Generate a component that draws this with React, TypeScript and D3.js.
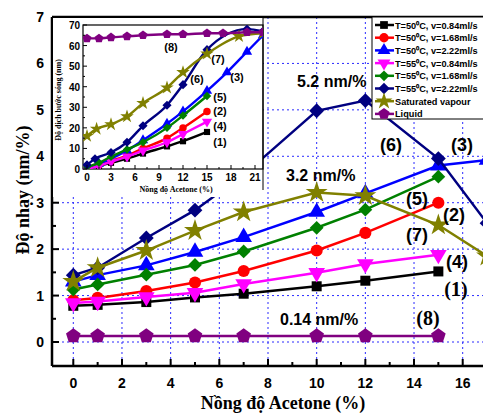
import React from "react";
import * as d3 from "d3";

// main plot: sensitivity vs acetone concentration
const xsMain = [0, 1, 3, 5, 7, 10, 12, 15];
const xsLong = [0, 1, 3, 5, 7, 10, 12, 15, 17];
const s1 = [0.78, 0.8, 0.86, 0.96, 1.04, 1.2, 1.32, 1.52];
const s2 = [0.9, 0.95, 1.1, 1.28, 1.53, 1.97, 2.35, 3.0];
const s3 = [1.3, 1.44, 1.65, 1.94, 2.26, 2.8, 3.2, 3.8, 3.92];
const s4 = [0.84, 0.87, 0.97, 1.06, 1.25, 1.49, 1.68, 1.88];
const s5 = [1.13, 1.24, 1.45, 1.66, 1.95, 2.46, 2.85, 3.56];
const s6 = [1.44, 1.6, 2.24, 2.84, 3.6, 4.98, 5.2, 3.95, 2.56];
const s7 = [1.3, 1.6, 1.97, 2.4, 2.8, 3.22, 3.15, 2.52, 1.85];
const s8 = [0.13, 0.13, 0.13, 0.13, 0.13, 0.13, 0.13, 0.13];

// inset: wavelength shift (nm)
const inX = [0, 1.5, 3, 5, 7, 10, 12, 15];
const in1 = [0, 1.5, 3, 5, 7.5, 11, 13.5, 18];
const in2 = [0.5, 2, 4, 6.5, 10, 15, 20, 28];
const in4 = [0, 1.5, 3.5, 6, 9, 13, 17, 23];
const in5 = [1, 3, 6, 9.5, 13, 20, 26, 35.5];
const in3X = [0, 1.5, 3, 5, 7, 10, 12, 15, 17.5, 20, 22];
const in3 = [0.5, 2.5, 5, 9, 14, 22, 28, 38, 47, 57, 65];
const in6X = [0, 1, 3, 5, 7, 10, 12, 15, 20, 22];
const in6 = [2, 5, 8, 13, 21, 31, 41, 58, 68, 67];
const in7X = [0, 1.2, 3, 5, 7, 10, 12, 15, 19, 22];
const in7 = [16, 19.5, 21.7, 25.5, 32, 39.5, 47, 56, 64.5, 66];
const in8X = [0, 1.5, 3, 5, 7, 10, 12, 15, 17, 20, 22];
const in8 = [63.5, 63.5, 64, 64.5, 65, 65.5, 65.5, 66, 66, 66.5, 66.5];

const legendNames = [
  "T=50⁰C, v=0.84ml/s",
  "T=50⁰C, v=1.68ml/s",
  "T=50⁰C, v=2.22ml/s",
  "T=55⁰C, v=0.84ml/s",
  "T=55⁰C, v=1.68ml/s",
  "T=55⁰C, v=2.22ml/s",
  "Saturated vapour",
  "Liquid",
];

const pentagon = {
  draw(ctx: any, size: number) {
    const r = Math.sqrt(size / (2.5 * Math.sin((72 * Math.PI) / 180)));
    for (let k = 0; k < 5; k++) {
      const a = -Math.PI / 2 + (k * 2 * Math.PI) / 5;
      if (k === 0) ctx.moveTo(r * Math.cos(a), r * Math.sin(a));
      else ctx.lineTo(r * Math.cos(a), r * Math.sin(a));
    }
    ctx.closePath();
  },
};

// shape, rotation, size
const markers: [any, number, number][] = [
  [d3.symbolSquare, 0, 100],
  [d3.symbolCircle, 0, 115],
  [d3.symbolTriangle, 0, 120],
  [d3.symbolTriangle, 180, 120],
  [d3.symbolSquare, 45, 95],
  [d3.symbolSquare, 45, 110],
  [d3.symbolStar, 0, 150],
  [pentagon, 0, 140],
];
const colors = ["#000000", "#ff0000", "#0000ff", "#ff00ff", "#008000", "#000080", "#808000", "#800080"];

const sans = "'Liberation Sans', Arial, sans-serif";
const serif = "'Liberation Serif', 'Times New Roman', serif";

export default function App() {
  const x = d3.scaleLinear().domain([0, 16]).range([73.3, 462.7]);
  const y = d3.scaleLinear().domain([0, 7]).range([342, 17]);
  const L = 52, T = 17, B = 366, R = 500;

  const mainSeries = [
    { xs: xsMain, ys: s1 }, { xs: xsMain, ys: s2 }, { xs: xsLong, ys: s3 }, { xs: xsMain, ys: s4 },
    { xs: xsMain, ys: s5 }, { xs: xsLong, ys: s6 }, { xs: xsLong, ys: s7 }, { xs: xsMain, ys: s8 },
  ];
  const line = d3.line<[number, number]>().x((d) => x(d[0])).y((d) => y(d[1]));

  const ix = d3.scaleLinear().domain([0, 21]).range([87, 255]);
  const iy = d3.scaleLinear().domain([0, 70]).range([169, 25]);
  const iL = 83, iR = 263, iT = 25, iB = 169;
  const insetSeries = [
    { xs: inX, ys: in1 }, { xs: inX, ys: in2 }, { xs: in3X, ys: in3 }, { xs: inX, ys: in4 },
    { xs: inX, ys: in5 }, { xs: in6X, ys: in6 }, { xs: in7X, ys: in7 }, { xs: in8X, ys: in8 },
  ];
  const iline = d3.line<[number, number]>().x((d) => ix(d[0])).y((d) => iy(d[1])).curve(d3.curveMonotoneX);

  const sym = (i: number, scale = 1) => d3.symbol().type(markers[i][0]).size(markers[i][2] * scale)()!;

  const grid = "#2b2bff";

  return (
    <svg width={483} height={414} style={{ position: "absolute", left: 0, top: 0, background: "#fff" }}>
      <defs>
        <clipPath id="plot"><rect x={L} y={T} width={R - L} height={B - T} /></clipPath>
        <clipPath id="inset"><rect x={iL} y={iT} width={iR - iL} height={iB - iT} /></clipPath>
      </defs>

      {/* grid */}
      <g stroke={grid} strokeWidth={1} strokeDasharray="2,3">
        {d3.range(0, 17, 2).map((v) => <line key={"gx" + v} x1={x(v)} x2={x(v)} y1={T} y2={B} />)}
        {d3.range(0, 7).map((v) => <line key={"gy" + v} x1={L} x2={R} y1={y(v)} y2={y(v)} />)}
      </g>

      {/* main series */}
      <g clipPath="url(#plot)">
        {mainSeries.map((s, i) => {
          const pts = s.xs.map((v, j) => [v, s.ys[j]] as [number, number]);
          return (
            <g key={"m" + i}>
              <path d={line(pts)!} fill="none" stroke={colors[i]} strokeWidth={2.5} />
              {pts.map((p, j) => (
                <path key={j} d={sym(i)} fill={colors[i]} transform={`translate(${x(p[0])},${y(p[1])}) rotate(${markers[i][1]})`} />
              ))}
            </g>
          );
        })}
      </g>

      {/* frame */}
      <g stroke="#000" strokeWidth={2.5} fill="none">
        <line x1={L} x2={R} y1={T} y2={T} />
        <line x1={L} x2={R} y1={B} y2={B} />
        <line x1={L} x2={L} y1={T} y2={B} />
      </g>
      <g stroke="#000" strokeWidth={2}>
        {d3.range(0, 17, 2).map((v) => <line key={"tx" + v} x1={x(v)} x2={x(v)} y1={B} y2={B - 7} />)}
        {d3.range(1, 17, 2).map((v) => <line key={"mx" + v} x1={x(v)} x2={x(v)} y1={B} y2={B - 4} />)}
        {d3.range(0, 8).map((v) => <line key={"ty" + v} x1={L} x2={L + 7} y1={y(v)} y2={y(v)} />)}
        {d3.range(0.5, 7, 1).map((v) => <line key={"my" + v} x1={L} x2={L + 4} y1={y(v)} y2={y(v)} />)}
      </g>
      <g fontFamily={sans} fontWeight="bold" fontSize={14} fill="#000">
        {d3.range(0, 17, 2).map((v) => (
          <text key={"lx" + v} x={x(v)} y={388} textAnchor="middle">{v}</text>
        ))}
        {d3.range(0, 8).map((v) => (
          <text key={"ly" + v} x={44} y={y(v) + 5} textAnchor="end">{v}</text>
        ))}
      </g>
      <text x={283} y={409} textAnchor="middle" fontFamily={serif} fontWeight="bold" fontSize={18}>Nồng độ Acetone (%)</text>
      <text transform="translate(29,190) rotate(-90)" textAnchor="middle" fontFamily={serif} fontWeight="bold" fontSize={18}>Độ nhạy (nm/%)</text>

      {/* annotations */}
      <g fontFamily={sans} fontWeight="bold" fontSize={16} fill="#000">
        <text x={297} y={87}>5.2 nm/%</text>
        <text x={286} y={181}>3.2 nm/%</text>
        <text x={280} y={325}>0.14 nm/%</text>
      </g>
      <g fontFamily={sans} fontWeight="bold" fontSize={18} fill="#000" textAnchor="middle">
        <text x={391} y={151}>(6)</text>
        <text x={462} y={151}>(3)</text>
        <text x={417} y={205}>(5)</text>
        <text x={454} y={221}>(2)</text>
        <text x={417} y={241}>(7)</text>
        <text x={457} y={268}>(4)</text>
      </g>
      <g fontFamily={serif} fontWeight="bold" fontSize={20} fill="#000" textAnchor="middle">
        <text x={456} y={296}>(1)</text>
        <text x={428} y={325}>(8)</text>
      </g>

      {/* inset */}
      <rect x={L + 1} y={T + 1} width={iR - L - 1} height={197 - T - 1} fill="#fff" />
      <line x1={iR} x2={iR} y1={T} y2={190} stroke="#000" strokeWidth={1} />
      <rect x={iL} y={iT} width={iR - iL} height={iB - iT} fill="none" stroke="#000" strokeWidth={1.2} />
      <g clipPath="url(#inset)">
        {insetSeries.map((s, i) => {
          const pts = s.xs.map((v, j) => [v, s.ys[j]] as [number, number]);
          return (
            <g key={"i" + i}>
              <path d={iline(pts)!} fill="none" stroke={colors[i]} strokeWidth={2.4} />
              {pts.map((p, j) => (
                <path key={j} d={sym(i, 0.38)} fill={colors[i]} transform={`translate(${ix(p[0])},${iy(p[1])}) rotate(${markers[i][1]})`} />
              ))}
            </g>
          );
        })}
      </g>
      <g stroke="#000" strokeWidth={1}>
        {d3.range(0, 22, 3).map((v) => <line key={"itx" + v} x1={ix(v)} x2={ix(v)} y1={iB} y2={iB - 4} />)}
        {d3.range(1.5, 22, 3).map((v) => <line key={"imx" + v} x1={ix(v)} x2={ix(v)} y1={iB} y2={iB - 2} />)}
        {d3.range(0, 71, 10).map((v) => <line key={"ity" + v} x1={iL} x2={iL + 4} y1={iy(v)} y2={iy(v)} />)}
        {d3.range(5, 70, 10).map((v) => <line key={"imy" + v} x1={iL} x2={iL + 2} y1={iy(v)} y2={iy(v)} />)}
      </g>
      <g fontFamily={sans} fontWeight="bold" fontSize={10} fill="#000">
        {d3.range(0, 22, 3).map((v) => (
          <text key={"ilx" + v} x={ix(v)} y={181} textAnchor="middle">{v}</text>
        ))}
        {d3.range(0, 71, 10).map((v) => (
          <text key={"ily" + v} x={80} y={iy(v) + 4} textAnchor="end">{v}</text>
        ))}
      </g>
      <text x={176} y={192} textAnchor="middle" fontFamily={serif} fontWeight="bold" fontSize={8}>Nồng độ Acetone (%)</text>
      <text transform="translate(61,100) rotate(-90)" textAnchor="middle" fontFamily={serif} fontWeight="bold" fontSize={8}>Độ dịch bước sóng (nm)</text>
      <g fontFamily={sans} fontWeight="bold" fontSize={11} fill="#000" textAnchor="middle">
        <text x={171} y={51}>(8)</text>
        <text x={218} y={63}>(7)</text>
        <text x={197} y={83}>(6)</text>
        <text x={237} y={81}>(3)</text>
        <text x={220} y={101}>(5)</text>
        <text x={220} y={115}>(2)</text>
        <text x={220} y={130}>(4)</text>
        <text x={220} y={146}>(1)</text>
      </g>

      {/* legend */}
      <rect x={372} y={T} width={130} height={119 - T} fill="#fff" stroke="#000" strokeWidth={1} />
      {legendNames.map((n, i) => {
        const ly = 25 + i * 12.7;
        return (
          <g key={"lg" + i}>
            <line x1={375} x2={394} y1={ly} y2={ly} stroke={colors[i]} strokeWidth={2.5} />
            <path d={sym(i, 0.6)} fill={colors[i]} transform={`translate(384,${ly}) rotate(${markers[i][1]})`} />
            <text x={395} y={ly + 3.5} fontFamily={sans} fontWeight="bold" fontSize={9.2}>{n}</text>
          </g>
        );
      })}
    </svg>
  );
}
